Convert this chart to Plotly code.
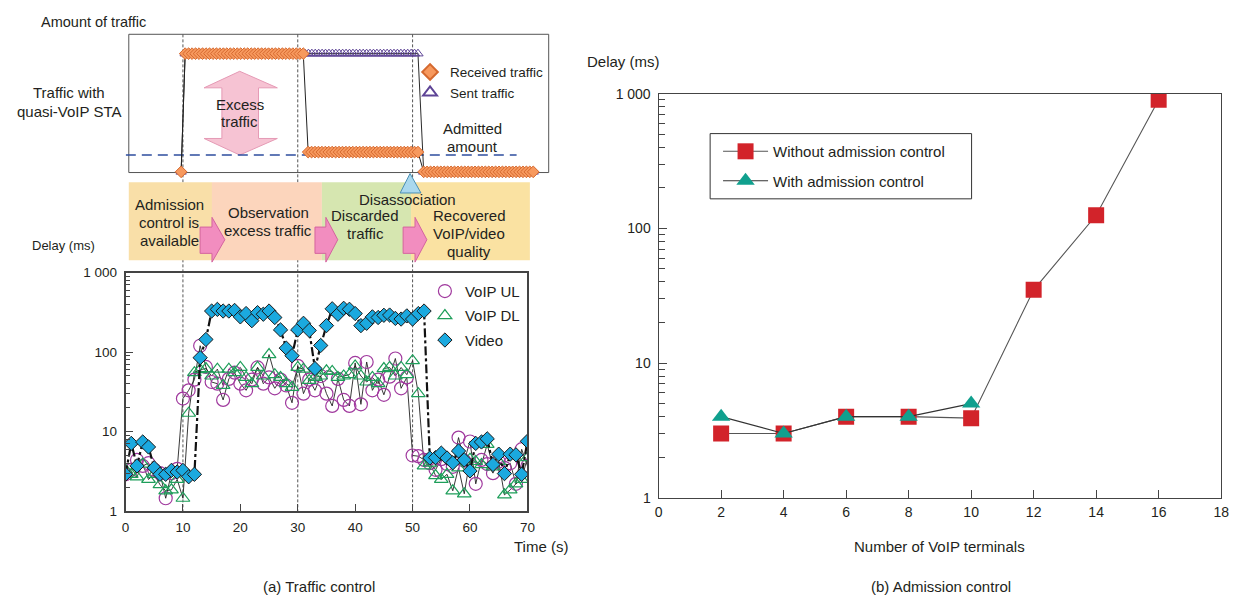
import numpy as np
import plotly.graph_objects as go

W, H = 1246, 607
FONT = "Liberation Sans, Arial, sans-serif"
INK = "#231F20"

# ---------------- (a) lower panel: delay vs time ----------------
time_s = list(range(0, 71))
voip_ul = [2.9, 3.3, 4.4, 3.7, 4.0, 3.3, 3.0, 1.45, 3.0, 3.4,
           26, 33, 45, 120, 65, 42, 40, 25, 46, 55,
           40, 33, 45, 64, 40, 48, 35, 45, 38, 23,
           67, 30, 45, 33, 50, 30, 21, 46, 25, 21,
           73, 22, 75, 33, 45, 29, 49, 83, 35, 48,
           5.0, 4.9, 4.4, 4.0, 3.3, 4.5, 3.9, 3.6, 8.4, 4.3,
           7.5, 2.2, 4.4, 3.9, 3.0, 4.2, 3.5, 4.0, 2.2, 6.0, 3.7]
voip_dl = [3.3, 2.9, 2.7, 3.9, 2.5, 2.9, 2.15, 1.8, 1.85, 2.5,
           1.45, 17, 55, 60, 62, 50, 61, 38, 61, 55,
           64, 48, 40, 64, 50, 93, 52, 48, 40, 36,
           64, 61, 44, 48, 50, 58, 57, 48, 50, 52,
           67, 50, 42, 48, 40, 62, 64, 50, 64, 52,
           78, 30, 3.7, 4.0, 2.8, 2.5, 2.9, 1.8, 3.5, 1.65,
           4.5, 4.2, 3.85, 6.9, 3.6, 4.2, 1.6, 1.85, 2.2, 2.5, 4.7]
video = [2.9, 7.1, 3.7, 7.4, 6.4, 3.5, 2.9, 2.9, 3.25, 3.1,
         3.25, 2.7, 2.9, 85, 144, 328, 344, 328, 328, 334,
         277, 305, 248, 313, 299, 328, 272, 190, 112, 90,
         190, 230, 187, 62, 121, 215, 350, 299, 355, 345,
         305, 215, 230, 277, 272, 290, 292, 265, 260, 285,
         260, 305, 328, 4.65, 4.7, 5.35, 4.65, 4.05, 5.7, 4.4,
         3.2, 7.1, 7.4, 8.1, 3.85, 5.2, 2.96, 5.2, 5.1, 2.9, 7.55]
phase_times = [10, 30, 50]
delay_ticks = [1, 10, 100, 1000]
delay_ticktext = ["1", "10", "100", "1 000"]
delay_minor = [2, 3, 4, 5, 6, 7, 8, 9, 20, 30, 40, 50, 60, 70, 80, 90,
               200, 300, 400, 500, 600, 700, 800, 900]
time_ticks = [0, 10, 20, 30, 40, 50, 60, 70]

# ---------------- (a) upper panel: traffic amount ----------------
recv_start = [9.7, 10.4, 31.85, 52.0]
recv_end = [9.7, 31.0, 51.0, 71.1]
recv_level = [0.005, 0.86, 0.148, 0.005]
sent_start = [9.7, 10.4, 52.0]
sent_end = [9.7, 51.0, 71.1]
sent_level = [0.005, 0.86, 0.005]
admitted_t = [0.05, 68.2]
admitted_level = 0.127
sample_step = 0.6

# ---------------- (b) admission control ----------------
terminals = [2, 4, 6, 8, 10, 12, 14, 16]
delay_without = [3.0, 3.0, 4.0, 4.0, 3.9, 35, 125, 900]
terminals_with = [2, 4, 6, 8, 10]
delay_with = [4.0, 3.0, 4.0, 4.0, 5.0]
term_ticks = [0, 2, 4, 6, 8, 10, 12, 14, 16, 18]


def px(x):
    return x / W


def py(y):
    return 1 - y / H


def expand(starts, ends, levels, step):
    t, v = [], []
    for s, e, lv in zip(starts, ends, levels):
        n = int(round((e - s) / step)) + 1
        ts = np.linspace(s, e, n) if n > 1 else np.array([s])
        t.extend(ts.tolist())
        v.extend([lv] * n)
    return t, v


sent_t, sent_v = expand(sent_start, sent_end, sent_level, sample_step)
recv_t, recv_v = expand(recv_start, recv_end, recv_level, sample_step)

fig = go.Figure()

# ---- upper panel traces ----
fig.add_trace(go.Scatter(x=admitted_t, y=[admitted_level] * 2, xaxis="x3", yaxis="y3",
                         mode="lines", line=dict(color="#2E4E9E", width=1.6, dash="10px,6px"),
                         showlegend=False, hoverinfo="skip"))
fig.add_trace(go.Scatter(x=sent_t, y=sent_v, xaxis="x3", yaxis="y3", mode="lines",
                         line=dict(color="#2b2b2b", width=1), showlegend=False, hoverinfo="skip"))
fig.add_trace(go.Scatter(x=sent_t, y=sent_v, xaxis="x3", yaxis="y3", mode="markers",
                         marker=dict(symbol="triangle-up-open", size=9, color="#5E4496",
                                     line=dict(width=1, color="#5E4496")),
                         name="Sent traffic", legend="legend", legendrank=2, cliponaxis=False))
fig.add_trace(go.Scatter(x=recv_t, y=recv_v, xaxis="x3", yaxis="y3", mode="lines",
                         line=dict(color="#222222", width=1), showlegend=False, hoverinfo="skip"))
fig.add_trace(go.Scatter(x=recv_t, y=recv_v, xaxis="x3", yaxis="y3", mode="markers",
                         marker=dict(symbol="diamond", size=9, color="#F7995E",
                                     line=dict(width=1, color="#D5692F")),
                         name="Received traffic", legend="legend", legendrank=1, cliponaxis=False))

# ---- lower panel traces ----
UL_C, DL_C, VID_C = "#A0399E", "#1E9E5A", "#1BA9DF"
fig.add_trace(go.Scatter(x=time_s, y=voip_ul, mode="lines", line=dict(color="#222", width=0.9),
                         showlegend=False, hoverinfo="skip"))
fig.add_trace(go.Scatter(x=time_s, y=voip_dl, mode="lines", line=dict(color="#222", width=0.9),
                         showlegend=False, hoverinfo="skip"))
fig.add_trace(go.Scatter(x=time_s, y=voip_ul, mode="markers", name="VoIP UL", legend="legend2",
                         legendgroup="ul", legendrank=1,
                         marker=dict(symbol="circle-open", size=13, color=UL_C, line=dict(width=1.2))))
fig.add_trace(go.Scatter(x=time_s, y=voip_dl, mode="markers", name="VoIP DL", legend="legend2",
                         legendgroup="dl", legendrank=2,
                         marker=dict(symbol="triangle-up-open", size=12, color=DL_C, line=dict(width=1.2))))
fig.add_trace(go.Scatter(x=time_s, y=video, mode="lines", line=dict(color="#111", width=2.2, dash="dashdot"),
                         showlegend=False, hoverinfo="skip"))
fig.add_trace(go.Scatter(x=time_s, y=video, mode="markers", name="Video", legend="legend2",
                         legendgroup="vid", legendrank=3,
                         marker=dict(symbol="diamond", size=11, color=VID_C, line=dict(width=1, color="#1a1a1a"))))

# ---- right panel traces ----
fig.add_trace(go.Scatter(x=terminals, y=delay_without, xaxis="x2", yaxis="y2", mode="lines+markers",
                         name="Without admission control", legend="legend3", legendgroup="wo",
                         line=dict(color="#555", width=1.1),
                         marker=dict(symbol="square", size=16, color="#D2232A")))
fig.add_trace(go.Scatter(x=terminals_with, y=delay_with, xaxis="x2", yaxis="y2", mode="lines+markers",
                         name="With admission control", legend="legend3", legendgroup="w",
                         line=dict(color="#333", width=1.1),
                         marker=dict(symbol="triangle-up", size=16, color="#10A08E")))

# ---------------- shapes ----------------
shapes = []
for t in phase_times:
    shapes.append(dict(type="line", xref="x", yref="paper", x0=t, x1=t, y0=py(518), y1=py(27),
                       line=dict(color="#555", width=1, dash="3px,2px"), layer="below"))
shapes.append(dict(type="rect", xref="paper", yref="paper", x0=px(126), x1=px(550), y0=py(169), y1=py(27),
                   line=dict(color="#555", width=1), layer="below"))
band = [(126, 210, "#F9DFA8"), (210, 321, "#FCD5BC"), (321, 411, "#D6E6B0"), (411, 531, "#FAE2A2")]
for x0, x1, c in band:
    shapes.append(dict(type="rect", xref="paper", yref="paper", x0=px(x0), x1=px(x1), y0=py(259), y1=py(179),
                       line=dict(width=0), fillcolor=c, layer="below"))


def path(points):
    return "M " + " L ".join(f"{px(a):.5f},{py(b):.5f}" for a, b in points) + " Z"


for sx, hx, tx in [(198, 210, 223), (314, 325, 337), (403, 415, 427)]:
    pts = [(sx, 225), (hx, 225), (hx, 215), (tx, 238), (hx, 261), (hx, 252), (sx, 252)]
    shapes.append(dict(type="path", xref="paper", yref="paper", path=path(pts),
                       fillcolor="#F28DBF", line=dict(color="#D4649E", width=1)))
shapes.append(dict(type="path", xref="paper", yref="paper",
                   path=path([(410, 170), (421, 190), (400, 190)]),
                   fillcolor="#A9D8EE", line=dict(color="#4A8FB5", width=1)))
arrow = [(238, 65), (276, 82), (257, 82), (257, 134), (276, 134), (238, 151),
         (202, 134), (220, 134), (220, 82), (202, 82)]
shapes.append(dict(type="path", xref="paper", yref="paper", path=path(arrow),
                   fillcolor="#F6C3D3", line=dict(color="#E59AB5", width=1), layer="below"))
shapes.append(dict(type="rect", xref="paper", yref="paper", x0=px(713), x1=px(977), y0=py(196), y1=py(129),
                   line=dict(color="#333", width=1), layer="above"))

# ---------------- annotations ----------------
anns = []


def ann(text, x, y, size=15, xanchor="center"):
    if xanchor == "left":
        x -= 4
    anns.append(dict(text=text, x=px(x), y=py(y), xref="paper", yref="paper", showarrow=False,
                     xanchor=xanchor, yanchor="middle", font=dict(family=FONT, size=size, color=INK)))


ann("Amount of traffic", 39, 14, 14.5, xanchor="left")
ann("Traffic with", 66, 87)
ann("quasi-VoIP STA", 66, 106)
ann("Excess", 238, 99)
ann("traffic", 238, 117)
ann("Admitted", 473, 124)
ann("amount", 473, 142)
ann("Admission", 167, 202)
ann("control is", 167, 220)
ann("available", 167, 239)
ann("Observation", 267, 210)
ann("excess traffic", 267, 229)
ann("Discarded", 365, 213)
ann("traffic", 365, 232)
ann("Disassociation", 407, 197)
ann("Recovered", 470, 213)
ann("VoIP/video", 470, 232)
ann("quality", 470, 250)
ann("Delay (ms)", 30, 244, 13, xanchor="left")
ann("Time (s)", 517, 553, xanchor="left")
ann("(a) Traffic control", 318, 594)
ann("Delay (ms)", 591, 55, xanchor="left")
ann("Number of VoIP terminals", 945, 553)
ann("(b) Admission control", 946, 594)

axis_common = dict(showgrid=False, zeroline=False, showline=True, mirror=True, linecolor="#444",
                   ticks="inside", tickcolor="#444")

fig.update_layout(
    width=W, height=H, autosize=False, margin=dict(l=0, r=0, t=0, b=0),
    paper_bgcolor="white", plot_bgcolor="rgba(0,0,0,0)",
    font=dict(family=FONT, color=INK),
    shapes=shapes, annotations=anns,
    xaxis=dict(domain=[px(122.7), px(528.5)], range=[0, 70], tickvals=time_ticks, ticklen=7,
               linewidth=1.5, ticklabelstandoff=3,
               tickfont=dict(family=FONT, size=13.5, color=INK), **axis_common),
    yaxis=dict(domain=[py(516.7), py(271.7)], type="log", range=[0, 3], tickvals=delay_ticks,
               ticktext=delay_ticktext, ticklen=8, linewidth=1.5, ticklabelstandoff=4,
               tickfont=dict(family=FONT, size=13.5, color=INK),
               minor=dict(ticks="inside", ticklen=5, tickcolor="#444", tickvals=delay_minor),
               **axis_common),
    xaxis2=dict(domain=[px(661), px(1229)], range=[0, 18], tickvals=term_ticks, ticklen=8,
                linewidth=1.3, anchor="y2", ticklabelstandoff=1,
                tickfont=dict(family=FONT, size=14, color=INK), **axis_common),
    yaxis2=dict(domain=[py(503), py(88)], type="log", range=[0, 3], tickvals=delay_ticks,
                ticktext=delay_ticktext, ticklen=8, linewidth=1.3, anchor="x2", ticklabelstandoff=4,
                tickfont=dict(family=FONT, size=14, color=INK),
                minor=dict(ticks="inside", ticklen=6, tickcolor="#444", tickvals=delay_minor),
                **axis_common),
    xaxis3=dict(domain=[px(122.7), px(550)], range=[0, (550 - 122.7) / 5.79], visible=False, anchor="y3"),
    yaxis3=dict(domain=[py(169), py(27)], range=[0, 1], visible=False, anchor="x3"),
    legend=dict(x=px(410), y=py(50), xanchor="left", yanchor="top", bgcolor="rgba(0,0,0,0)",
                font=dict(family=FONT, size=13.5, color=INK), itemsizing="constant", tracegroupgap=0),
    legend2=dict(x=px(425), y=py(274), xanchor="left", yanchor="top", bgcolor="rgba(0,0,0,0)",
                 font=dict(family=FONT, size=15, color=INK), tracegroupgap=2),
    legend3=dict(x=px(721), y=py(130.5), xanchor="left", yanchor="top", bgcolor="rgba(0,0,0,0)",
                 font=dict(family=FONT, size=15, color=INK), tracegroupgap=7, itemwidth=45),
)

fig.write_html("out.html", config={"displayModeBar": False, "responsive": False}, post_script=(
    "document.documentElement.style.margin='0';document.body.style.margin='0';"
    "document.body.style.padding='0';document.documentElement.style.overflow='hidden';"
    "document.body.style.overflow='hidden';"
    "var gd=document.getElementById('{plot_id}');gd.style.position='fixed';"
    "gd.style.left='0px';gd.style.top='0px';"))
